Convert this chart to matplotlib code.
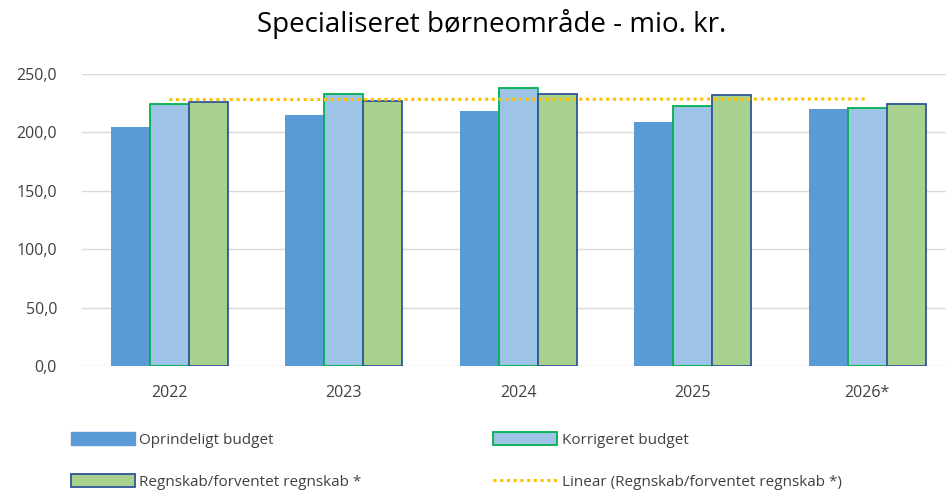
import numpy as np
import matplotlib.pyplot as plt
from matplotlib.patches import Patch
from matplotlib.lines import Line2D
from matplotlib.ticker import FuncFormatter

plt.rcParams['font.family'] = ['Open Sans', 'DejaVu Sans']

years = ['2022', '2023', '2024', '2025', '2026*']
oprindeligt = [204.5, 215.0, 218.0, 209.0, 219.5]
korrigeret = [224.0, 233.0, 238.0, 222.5, 221.0]
regnskab = [225.5, 227.0, 233.0, 231.5, 224.0]

labels = ['Oprindeligt budget', 'Korrigeret budget',
          'Regnskab/forventet regnskab *', 'Linear (Regnskab/forventet regnskab *)']

x = np.arange(len(years))
w = 0.223

fig = plt.figure(figsize=(9.47, 4.92), dpi=100)
ax = fig.add_axes([0.0866, 0.256, 0.912, 0.594])

ax.bar(x - w, oprindeligt, w, color='#5B9BD5', zorder=2)
ax.bar(x, korrigeret, w, color='#9DC3E6', edgecolor='#00B050', linewidth=1.3, zorder=2)
ax.bar(x + w, regnskab, w, color='#A9D18E', edgecolor='#2F5597', linewidth=1.3, zorder=2)

# linear trendline for regnskab
k, m = np.polyfit(x, regnskab, 1)
ax.plot(x, k * x + m, color='#FFC000', linestyle=(0, (1, 1.2)), linewidth=2.2, zorder=3)

ax.set_xlim(-0.5, 4.45)
ax.set_ylim(0, 250)
ax.set_yticks(np.arange(0, 251, 50))
ax.yaxis.set_major_formatter(FuncFormatter(lambda v, p: f'{v:.1f}'.replace('.', ',')))
ax.set_xticks(x)
ax.set_xticklabels(years)
ax.tick_params(length=0, labelsize=11.5, colors='#404040')
ax.tick_params(axis='y', pad=18)
ax.tick_params(axis='x', pad=14)
ax.grid(axis='y', color='#D9D9D9', linewidth=1, zorder=0)
for s in ax.spines.values():
    s.set_visible(False)

fig.text(0.519, 0.952, 'Specialiseret børneområde - mio. kr.', ha='center', va='center',
         fontsize=20, color='#000000')

handles = [
    Patch(facecolor='#5B9BD5', edgecolor='#5B9BD5'),
    Patch(facecolor='#A9D18E', edgecolor='#2F5597', linewidth=1.3),
    Patch(facecolor='#9DC3E6', edgecolor='#00B050', linewidth=1.3),
    Line2D([], [], color='#FFC000', linestyle=(0, (1, 1.2)), linewidth=2.2),
]
fig.legend(handles, [labels[0], labels[2], labels[1], labels[3]], ncol=2,
           loc='upper left', bbox_to_anchor=(0.06, 0.15), frameon=False,
           fontsize=11, handlelength=4.2, handleheight=0.9, handletextpad=0.3,
           columnspacing=8.6, labelspacing=1.75, labelcolor='#404040')

fig.savefig('out.png', dpi=100)
